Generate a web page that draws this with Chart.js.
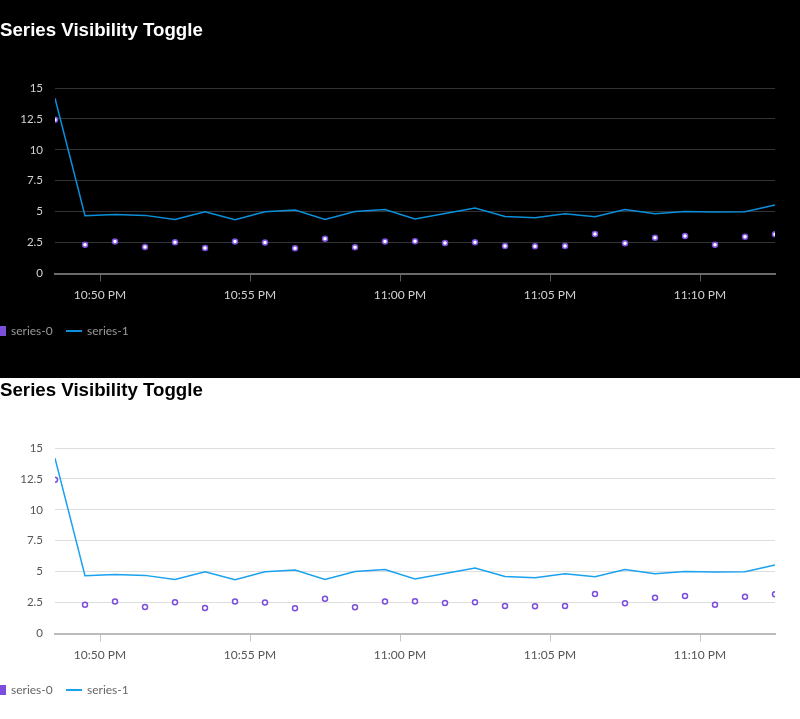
<!DOCTYPE html>
<html>
<head>
<meta charset="utf-8">
<title>Series Visibility Toggle</title>
<script src="https://cdn.jsdelivr.net/npm/chart.js@4.4.1/dist/chart.umd.min.js"></script>
<style>
  html, body { margin: 0; padding: 0; width: 800px; height: 719px; overflow: hidden; background: #fff; }
  #darkbg { position: absolute; left: 0; top: 0; width: 800px; height: 378px; background: #000; }
  .wrap { position: absolute; left: 0; width: 800px; height: 359px; }
  .wrap canvas { display: block; position: absolute; left: 0; top: 0; }
  .legend { position: absolute; left: 0; height: 16px; font-family: Lato, "Noto Sans", sans-serif; font-size: 12px; }
  .item { position: absolute; top: 0; height: 16px; line-height: 16px; white-space: nowrap; cursor: pointer; user-select: none; }
  .item .sw { position: absolute; }
  .item .lbl { position: absolute; top: 0; }
</style>
</head>
<body>
<div id="darkbg"></div>
<div class="wrap" id="wrapDark" style="top:0px;"><canvas id="chartDark" width="800" height="359" style="width:800px;height:359px;"></canvas></div>
<div class="wrap" id="wrapLight" style="top:360px;"><canvas id="chartLight" width="800" height="359" style="width:800px;height:359px;"></canvas></div>
<script>
// ---------- data ----------
const titleText = "Series Visibility Toggle";
const seriesNames = ["series-0", "series-1"];
const times = [
  "22:48:30", "22:49:30", "22:50:30", "22:51:30", "22:52:30",
  "22:53:30", "22:54:30", "22:55:30", "22:56:30", "22:57:30",
  "22:58:30", "22:59:30", "23:00:30", "23:01:30", "23:02:30",
  "23:03:30", "23:04:30", "23:05:30", "23:06:30", "23:07:30",
  "23:08:30", "23:09:30", "23:10:30", "23:11:30", "23:12:30"
];
const series0 = [
  12.44, 2.33, 2.58, 2.14, 2.53, 2.06, 2.58, 2.50, 2.04, 2.80,
  2.12, 2.58, 2.61, 2.47, 2.53, 2.22, 2.20, 2.22, 3.20, 2.44,
  2.90, 3.04, 2.33, 2.98, 3.18
];
const series1 = [
  14.18, 4.67, 4.78, 4.70, 4.37, 5.00, 4.34, 5.00, 5.13, 4.37,
  5.02, 5.18, 4.40, 4.86, 5.30, 4.61, 4.50, 4.83, 4.59, 5.18,
  4.83, 5.02, 4.98, 5.00, 5.54
];
const xTickTimes = ["22:50", "22:55", "23:00", "23:05", "23:10"];
const yTickValues = [0, 2.5, 5, 7.5, 10, 12.5, 15];
const xRange = ["22:48:30", "23:12:30"];
const yRange = [0, 15];

// ---------- helpers ----------
function toMinutes(t) {
  const p = t.split(":").map(Number);
  return p[0] * 60 + p[1] + (p[2] || 0) / 60;
}
function fmtTime(m) {
  const h = Math.floor(m / 60);
  const mm = Math.round(m - h * 60);
  let h12 = h % 12; if (h12 === 0) h12 = 12;
  return h12 + ":" + String(mm).padStart(2, "0") + " " + (h % 24 >= 12 ? "PM" : "AM");
}

const themes = {
  dark: {
    title: "#ffffff", tick: "#d2d2d2", grid: "#333333", axis: "#6a6a6a", tickMark: "#5a5a5a",
    legend: "#9a9a9a", line: "#0a8fda", purple: "#7b4fdc", pointBg: "#ffffff", legendTop: 323
  },
  light: {
    title: "#000000", tick: "#555555", grid: "#dedede", axis: "#bcbcbc", tickMark: "#c4c4c4",
    legend: "#666666", line: "#1aa1f0", purple: "#7b4fdc", pointBg: "#ffffff", legendTop: 322
  }
};

function makeChart(canvasId, wrapId, th) {
  const ctx = document.getElementById(canvasId);
  const chart = new Chart(ctx, {
    type: "line",
    data: {
      datasets: [
        {
          label: seriesNames[0],
          data: times.map((t, i) => ({ x: toMinutes(t), y: series0[i] })),
          showLine: false,
          pointRadius: 2.5,
          pointBorderWidth: 1.5,
          pointBorderColor: th.purple,
          pointBackgroundColor: th.pointBg,
          borderColor: th.purple,
          backgroundColor: th.purple
        },
        {
          label: seriesNames[1],
          data: times.map((t, i) => ({ x: toMinutes(t), y: series1[i] })),
          borderColor: th.line,
          backgroundColor: th.line,
          borderWidth: 1.5,
          pointRadius: 0,
          tension: 0,
          fill: false
        }
      ]
    },
    options: {
      responsive: false,
      animation: false,
      events: [],
      layout: { padding: { left: 0, right: 25, top: 0, bottom: 53.5 } },
      plugins: {
        legend: { display: false },
        tooltip: { enabled: false },
        title: {
          display: true,
          text: titleText,
          align: "start",
          color: th.title,
          font: { family: "'Liberation Sans', Arial, Helvetica, sans-serif", size: 18.7, weight: "bold" },
          padding: { top: 19.5, bottom: 46.06 }
        }
      },
      scales: {
        x: {
          type: "linear",
          min: toMinutes(xRange[0]),
          max: toMinutes(xRange[1]),
          afterFit: (s) => { s.height = 32; },
          afterBuildTicks: (s) => { s.ticks = xTickTimes.map((t) => ({ value: toMinutes(t) })); },
          ticks: {
            callback: (v) => fmtTime(v),
            color: th.tick,
            font: { family: "Lato, 'Noto Sans', sans-serif", size: 12 },
            padding: 6,
            maxRotation: 0,
            autoSkip: false
          },
          grid: { drawOnChartArea: false, drawTicks: true, tickLength: 8, tickColor: th.tickMark, tickWidth: 1 },
          border: { display: true, color: th.axis, width: 2 }
        },
        y: {
          type: "linear",
          min: yRange[0],
          max: yRange[1],
          afterFit: (s) => { s.width = 55; },
          afterBuildTicks: (s) => { s.ticks = yTickValues.map((v) => ({ value: v })); },
          ticks: {
            callback: (v) => String(v),
            color: th.tick,
            font: { family: "Lato, 'Noto Sans', sans-serif", size: 11.5 },
            padding: 12
          },
          grid: { color: th.grid, lineWidth: 1, drawTicks: false },
          border: { display: false }
        }
      }
    }
  });

  // HTML legend (clickable to toggle series visibility)
  const wrap = document.getElementById(wrapId);
  const lg = document.createElement("div");
  lg.className = "legend";
  lg.style.top = th.legendTop + "px";
  lg.style.color = th.legend;
  const specs = [
    { left: -6, swLeft: 0, swTop: 3, swW: 12, swH: 10, lblLeft: 17 },
    { left: 66, swLeft: 0, swTop: 7, swW: 16, swH: 2, lblLeft: 21 }
  ];
  chart.data.datasets.forEach((ds, i) => {
    const sp = specs[i];
    const it = document.createElement("div");
    it.className = "item";
    it.style.left = sp.left + "px";
    const sw = document.createElement("span");
    sw.className = "sw";
    sw.style.left = sp.swLeft + "px";
    sw.style.top = sp.swTop + "px";
    sw.style.width = sp.swW + "px";
    sw.style.height = sp.swH + "px";
    sw.style.background = ds.borderColor;
    const lbl = document.createElement("span");
    lbl.className = "lbl";
    lbl.style.left = sp.lblLeft + "px";
    lbl.textContent = ds.label;
    it.appendChild(sw);
    it.appendChild(lbl);
    it.addEventListener("click", () => {
      const vis = chart.isDatasetVisible(i);
      chart.setDatasetVisibility(i, !vis);
      it.style.opacity = vis ? 0.4 : 1;
      chart.update();
    });
    lg.appendChild(it);
  });
  wrap.appendChild(lg);
  return chart;
}

function build() {
  makeChart("chartDark", "wrapDark", themes.dark);
  makeChart("chartLight", "wrapLight", themes.light);
}

const fontLoads = [
  "12px Lato", "11.5px Lato", "bold 18.7px 'Liberation Sans'"
].map((f) => (document.fonts && document.fonts.load ? document.fonts.load(f) : Promise.resolve()));
Promise.all(fontLoads).then(build, build);
</script>
</body>
</html>
